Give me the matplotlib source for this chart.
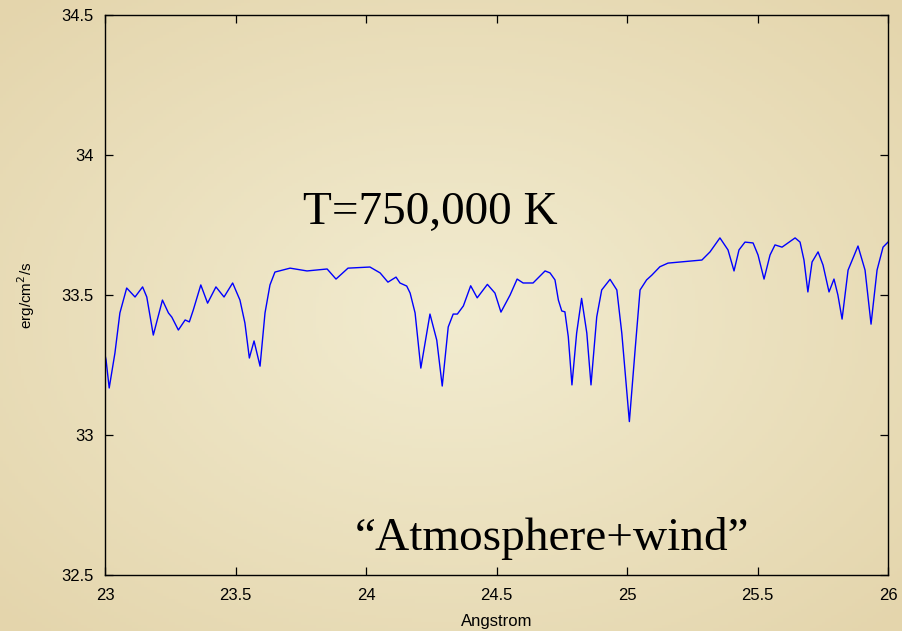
import numpy as np
import matplotlib
matplotlib.use("Agg")
import matplotlib.pyplot as plt

# spectrum (wavelength in Angstrom, log flux)
wave = [23.000, 23.004, 23.016, 23.038, 23.057, 23.083, 23.115, 23.144, 23.160, 23.185,
        23.220, 23.243, 23.256, 23.281, 23.307, 23.323, 23.338, 23.367, 23.393, 23.425,
        23.456, 23.489, 23.517, 23.536, 23.553, 23.571, 23.594, 23.613, 23.632, 23.651,
        23.709, 23.774, 23.851, 23.885, 23.931, 24.015, 24.054, 24.084, 24.115, 24.130,
        24.156, 24.169, 24.188, 24.210, 24.245, 24.271, 24.292, 24.315, 24.334, 24.350,
        24.373, 24.401, 24.426, 24.465, 24.494, 24.517, 24.552, 24.579, 24.602, 24.640,
        24.686, 24.705, 24.724, 24.737, 24.750, 24.762, 24.775, 24.789, 24.807, 24.826,
        24.846, 24.862, 24.884, 24.903, 24.935, 24.961, 24.980, 25.009, 25.031, 25.050,
        25.075, 25.095, 25.126, 25.157, 25.287, 25.318, 25.356, 25.387, 25.410, 25.429,
        25.452, 25.483, 25.502, 25.525, 25.548, 25.567, 25.594, 25.644, 25.663, 25.678,
        25.693, 25.709, 25.732, 25.751, 25.774, 25.793, 25.808, 25.824, 25.847, 25.885,
        25.912, 25.935, 25.958, 25.981, 26.000]
flux = [33.286, 33.268, 33.168, 33.293, 33.436, 33.525, 33.493, 33.529, 33.493, 33.357,
        33.482, 33.436, 33.421, 33.375, 33.411, 33.404, 33.446, 33.536, 33.471, 33.529,
        33.493, 33.543, 33.482, 33.400, 33.275, 33.336, 33.246, 33.436, 33.536, 33.582,
        33.596, 33.586, 33.593, 33.557, 33.596, 33.600, 33.579, 33.546, 33.564, 33.543,
        33.532, 33.507, 33.436, 33.239, 33.432, 33.339, 33.175, 33.386, 33.432, 33.432,
        33.461, 33.533, 33.490, 33.538, 33.507, 33.439, 33.500, 33.557, 33.543, 33.543,
        33.586, 33.579, 33.554, 33.482, 33.443, 33.440, 33.351, 33.179, 33.364, 33.488,
        33.364, 33.179, 33.422, 33.518, 33.556, 33.518, 33.364, 33.048, 33.304, 33.518,
        33.554, 33.571, 33.601, 33.614, 33.625, 33.654, 33.704, 33.661, 33.586, 33.661,
        33.689, 33.686, 33.643, 33.557, 33.643, 33.679, 33.671, 33.704, 33.689, 33.625,
        33.511, 33.618, 33.654, 33.607, 33.511, 33.557, 33.500, 33.414, 33.589, 33.675,
        33.589, 33.396, 33.589, 33.671, 33.689]

xticks = [23, 23.5, 24, 24.5, 25, 25.5, 26]
xticklabels = ["23", "23.5", "24", "24.5", "25", "25.5", "26"]
yticks = [32.5, 33, 33.5, 34, 34.5]
yticklabels = ["32.5", "33", "33.5", "34", "34.5"]

def main():
    plt.rcParams["font.family"] = ["Liberation Sans", "DejaVu Sans"]
    fig = plt.figure(figsize=(9.03, 6.31), dpi=100)
    fig.patch.set_facecolor("#ede3c2")

    # parchment-ish backdrop, lighter in the middle
    bg = fig.add_axes([0, 0, 1, 1], zorder=-10)
    gy, gx = np.mgrid[-1:1:200j, -1:1:300j]
    shade = np.clip(np.sqrt(gx**2 + gy**2) / 1.4, 0, 1)
    light = np.array([242, 236, 208]) / 255.0
    dark = np.array([228, 213, 172]) / 255.0
    img = light[None, None, :] * (1 - shade[..., None]) + dark[None, None, :] * shade[..., None]
    bg.imshow(img, aspect="auto", extent=[0, 1, 0, 1])
    bg.axis("off")

    ax = fig.add_axes([0.1163, 0.0887, 0.8671, 0.8875])
    ax.set_facecolor("none")
    ax.plot(wave, flux, color="#0000ff", linewidth=1.0)

    ax.set_xlim(23, 26)
    ax.set_ylim(32.5, 34.5)
    ax.set_xticks(xticks)
    ax.set_xticklabels(xticklabels)
    ax.set_yticks(yticks)
    ax.set_yticklabels(yticklabels)
    ax.tick_params(direction="in", length=6, width=0.9, top=True, right=True,
                   labelsize=12, colors="black")
    ax.tick_params(axis="x", pad=9)
    ax.tick_params(axis="y", pad=8)
    for s in ax.spines.values():
        s.set_linewidth(1.0)

    ax.set_xlabel("Angstrom", fontsize=12, labelpad=8)
    ax.set_ylabel("erg/cm$^2$/s", fontsize=11, labelpad=18)

    serif = ["Liberation Serif", "DejaVu Serif"]
    ax.text(23.759, 33.755, "T=750,000 K", family=serif, fontsize=34,
            ha="left", va="baseline")
    ax.text(23.958, 32.588, "\u201cAtmosphere+wind\u201d", family=serif, fontsize=34,
            ha="left", va="baseline")

    fig.savefig("out.png", dpi=100, facecolor=fig.get_facecolor())

if __name__ == "__main__":
    main()
